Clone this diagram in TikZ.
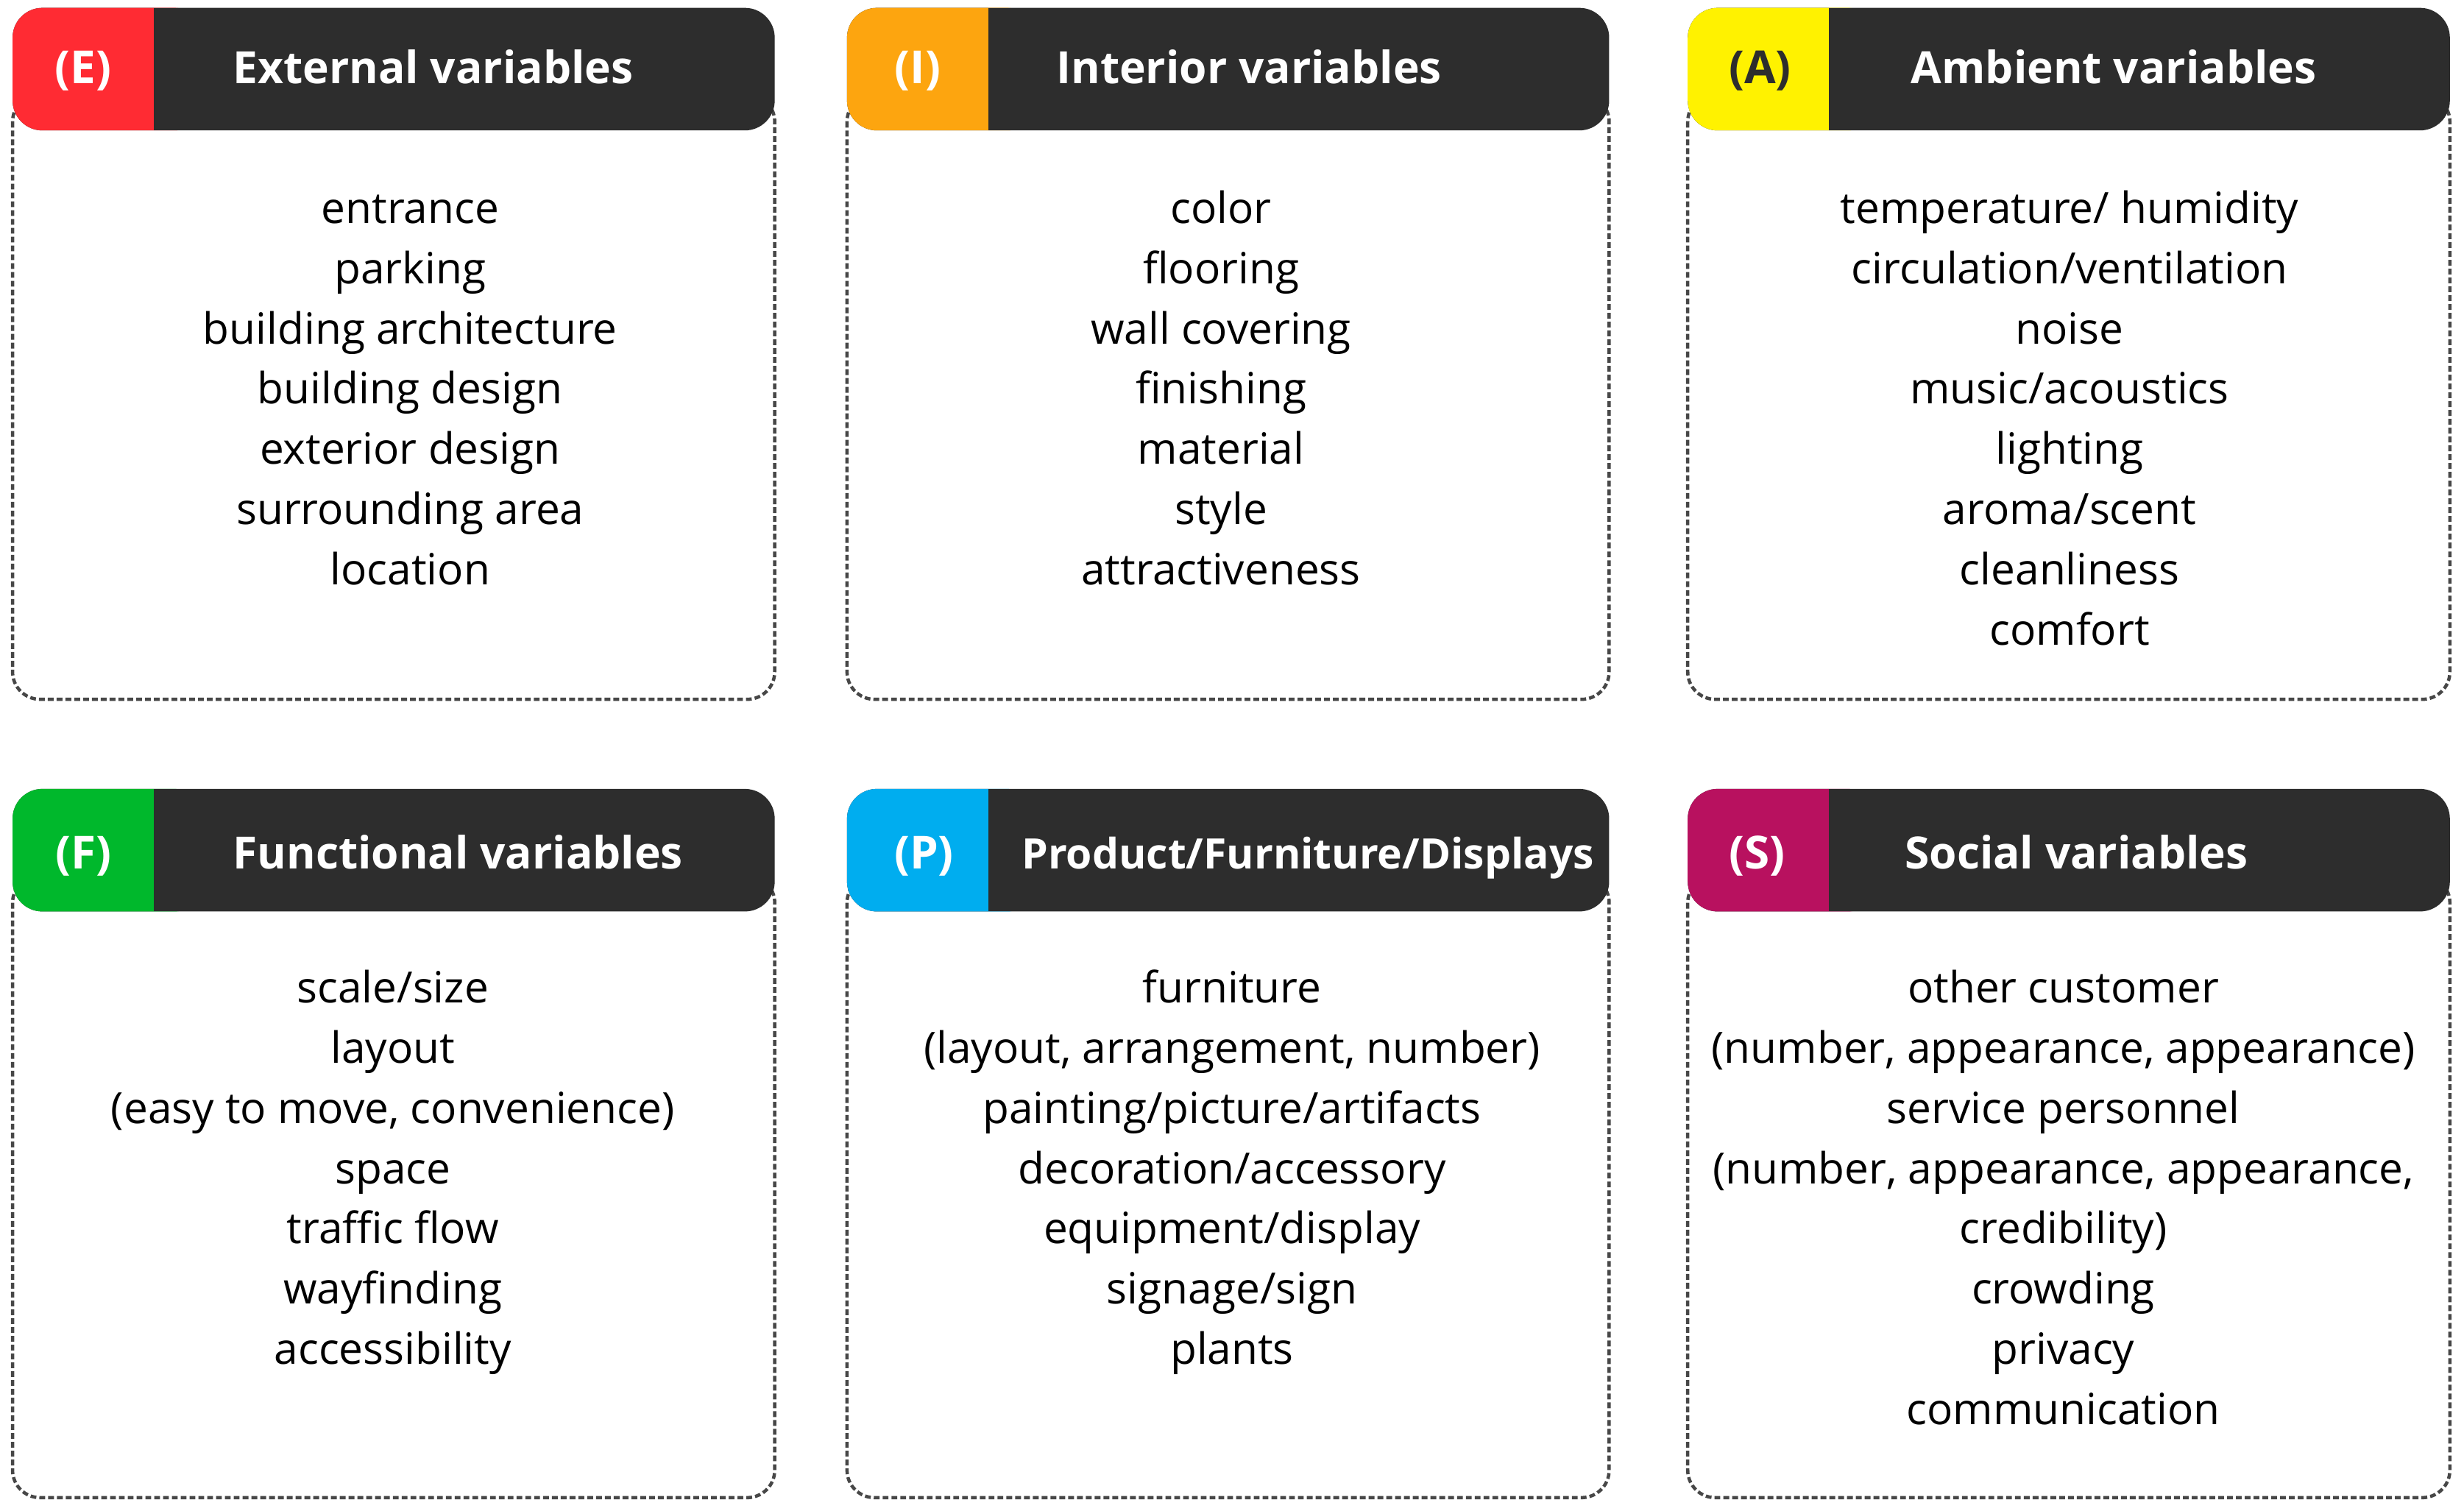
\documentclass[tikz,border=0pt]{standalone}
\usepackage{fontspec}
\setmainfont{Open Sans}
\definecolor{extred}{HTML}{FF2B33}
\definecolor{intorange}{HTML}{FDA50F}
\definecolor{ambyellow}{HTML}{FFF200}
\definecolor{fungreen}{HTML}{00B82C}
\definecolor{procyan}{HTML}{00ADEF}
\definecolor{socmagenta}{HTML}{B8115F}
\definecolor{bardark}{HTML}{2D2D2D}
\definecolor{framegray}{HTML}{474747}
\begin{document}
\begin{tikzpicture}[x=0.2mm,y=-0.2mm,
    frame/.style={draw=framegray,line width=1.2pt,dash pattern=on 2.1pt off 1.1pt,rounded corners=3.5mm},
    bar/.style={fill=bardark,rounded corners=3.8mm},
    tag/.style={font=\fontsize{16.5}{19}\selectfont\bfseries,text=white,anchor=base},
    title/.style={font=\fontsize{16.1}{19}\selectfont\bfseries,text=white,anchor=base west},
    items/.style={font=\fontsize{15.6}{21.8}\selectfont,align=center,anchor=north,inner sep=0pt}]
    \useasboundingbox (0,0) rectangle (1568,961.5);
    
    % top row
    \draw[frame] (8,60) rectangle (493,445);
    \fill[bar] (8,5) rectangle (493,83);
    \fill[extred,rounded corners=3.8mm] (8,5) rectangle (130,83);
    \fill[bardark] (98,5) rectangle (140,83);
    \node[tag] (Etag) at (53,53) {(E)};
    \node[title] (Etitle) at (142,53) {External variables};
    \node[items] (Eitems) at (261,115) {\strut entrance\\parking\\building architecture\\building design\\exterior design\\surrounding area\\location};
    
    \draw[frame] (539,60) rectangle (1024,445);
    \fill[bar] (539,5) rectangle (1024,83);
    \fill[intorange,rounded corners=3.8mm] (539,5) rectangle (660,83);
    \fill[bardark] (629,5) rectangle (670,83);
    \node[tag] (Itag) at (584,53) {(I)};
    \node[title] (Ititle) at (666,53) {Interior variables};
    \node[items] (Iitems) at (777,115) {\strut color\\flooring\\wall covering\\finishing\\material\\style\\attractiveness};
    
    \draw[frame] (1074,60) rectangle (1559,445);
    \fill[bar] (1074,5) rectangle (1559,83);
    \fill[ambyellow,rounded corners=3.8mm] (1074,5) rectangle (1195,83);
    \fill[bardark] (1164,5) rectangle (1205,83);
    \node[tag,text=bardark] (Atag) at (1120,53) {(A)};
    \node[title] (Atitle) at (1210,53) {Ambient variables};
    \node[items] (Aitems) at (1317,115) {\strut temperature/ humidity\\circulation/ventilation\\noise\\music/acoustics\\lighting\\aroma/scent\\cleanliness\\comfort};
    
    % bottom row
    \draw[frame] (8,557) rectangle (493,953);
    \fill[bar] (8,502) rectangle (493,580);
    \fill[fungreen,rounded corners=3.8mm] (8,502) rectangle (130,580);
    \fill[bardark] (98,502) rectangle (140,580);
    \node[tag] (Ftag) at (53,553) {(F)};
    \node[title] (Ftitle) at (142,553) {Functional variables};
    \node[items] (Fitems) at (250,611) {\strut scale/size\\layout\\(easy to move, convenience)\\space\\traffic flow\\wayfinding\\accessibility};
    
    \draw[frame] (539,557) rectangle (1024,953);
    \fill[bar] (539,502) rectangle (1024,580);
    \fill[procyan,rounded corners=3.8mm] (539,502) rectangle (660,580);
    \fill[bardark] (629,502) rectangle (670,580);
    \node[tag] (Ptag) at (588,553) {(P)};
    \node[title,font=\fontsize{15.2}{19}\selectfont\bfseries] (Ptitle) at (644,553) {Product/Furniture/Displays};
    \node[items] (Pitems) at (784,611) {\strut furniture\\(layout, arrangement, number)\\painting/picture/artifacts\\decoration/accessory\\equipment/display\\signage/sign\\plants};
    
    \draw[frame] (1074,557) rectangle (1559,953);
    \fill[bar] (1074,502) rectangle (1559,580);
    \fill[socmagenta,rounded corners=3.8mm] (1074,502) rectangle (1195,580);
    \fill[bardark] (1164,502) rectangle (1205,580);
    \node[tag] (Stag) at (1118,553) {(S)};
    \node[title] (Stitle) at (1206,553) {Social variables};
    \node[items] (Sitems) at (1313,611) {\strut other customer\\(number, appearance, appearance)\\service personnel\\(number, appearance, appearance,\\credibility)\\crowding\\privacy\\communication};
\end{tikzpicture}
\end{document}
